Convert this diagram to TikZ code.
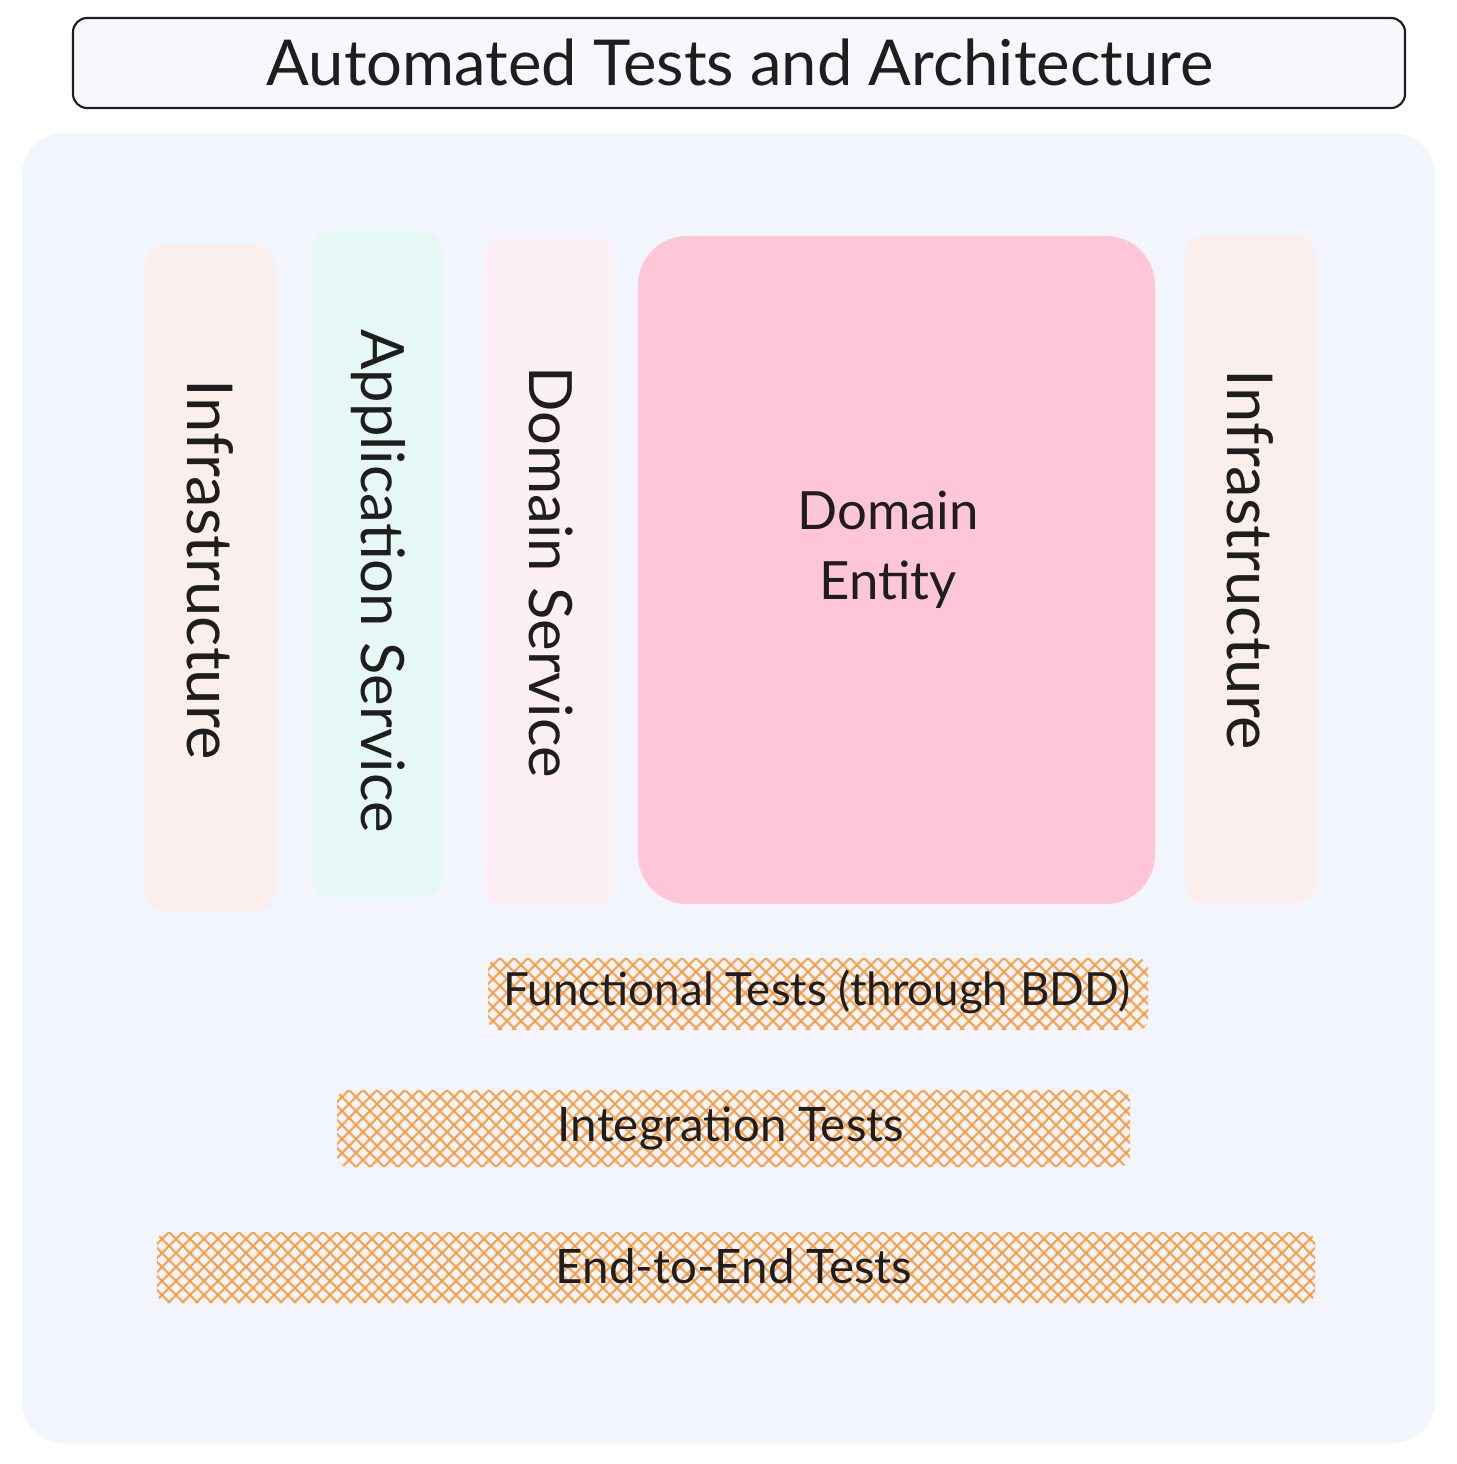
\documentclass[tikz,border=0pt]{standalone}
\usepackage{fontspec}
\setmainfont{Lato}
\usepackage{xcolor}
\definecolor{ink}{HTML}{1E1E1E}
\definecolor{canvas}{HTML}{F2F5FD}
\definecolor{titlefill}{HTML}{F8F8FC}
\definecolor{infrafill}{HTML}{FBEFEE}
\definecolor{appfill}{HTML}{E6F8F5}
\definecolor{dsfill}{HTML}{FDEFF6}
\definecolor{entityfill}{HTML}{FFC6D7}
\definecolor{hatchcol}{HTML}{FD9A3C}

\tikzset{
	layer/.style={rounded corners=5.5pt},
	layertext/.style={text=ink, rotate=-90, font=\fontsize{18}{22}\selectfont},
	testtext/.style={text=ink, font=\fontsize{13.5}{16}\selectfont},
	hatch/.style={hatchcol, line width=0.65pt, opacity=0.85},
}

\begin{document}
\begin{tikzpicture}[x=0.01cm, y=-0.01cm]
		% Parameters
		\def\hs{14}
		\useasboundingbox (0,0) rectangle (1456,1464);
		
		%title
		\filldraw[fill=titlefill, draw=ink, line width=0.6pt, rounded corners=4pt] (73,18) rectangle (1405,108);
		\node[text=ink, font=\fontsize{18}{22}\selectfont] (title) at (740,62) {Automated Tests and Architecture};
		
		%canvas
		\fill[canvas, rounded corners=12pt] (22,133) rectangle (1435,1443);
		
		%layers
		\fill[infrafill, layer] (145,245) rectangle (275,912);
		\fill[appfill, layer] (312,230) rectangle (442,898);
		\fill[dsfill, layer] (483,237) rectangle (613,905);
		\fill[entityfill, rounded corners=14pt] (638,236) rectangle (1155,904);
		\fill[infrafill, layer] (1185,236) rectangle (1315,903);
		
		\node[layertext] (infraleft) at (210,570) {Infrastructure};
		\node[layertext, font=\fontsize{17}{20}\selectfont] (appservice) at (378,581) {Application Service};
		\node[layertext, font=\fontsize{17}{20}\selectfont] (domservice) at (551,572) {Domain Service};
		\node[text=ink, align=center, font=\fontsize{15}{20}\selectfont] (entity) at (888,550) {Domain\\Entity};
		\node[layertext] (infraright) at (1250,560) {Infrastructure};
		
		%tests
		\foreach \xa/\ya/\xb/\yb in {488/958/1148/1030, 337/1090/1130/1167, 157/1232/1315/1303} {
			\begin{scope}
				\clip[rounded corners=3pt] (\xa,\ya) rectangle (\xb,\yb);
				\foreach \i in {-100,-86,...,1300} {
					\draw[hatch] (\xa+\i,\ya) -- ++({\yb-\ya},{\yb-\ya});
					\draw[hatch] (\xa+\i,\ya) -- ++({\ya-\yb},{\yb-\ya});
				}
			\end{scope}
		}
		
		\node[testtext, font=\fontsize{13}{16}\selectfont] (functional) at (817,992) {Functional Tests (through BDD)};
		\node[testtext] (integration) at (731,1128) {Integration Tests};
		\node[testtext] (endtoend) at (734,1266) {End-to-End Tests};
		
\end{tikzpicture}
\end{document}
